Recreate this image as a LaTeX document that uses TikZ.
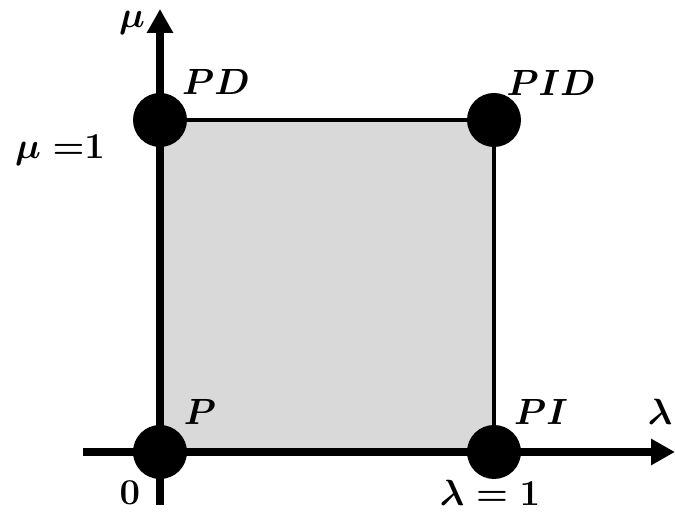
\documentclass[tikz,border=0pt]{standalone}
\usepackage{amsmath, amssymb, bm}
\usepackage{tikz}
\usetikzlibrary{arrows.meta, positioning}
\usepackage{xcolor}
\definecolor{RegionGray}{RGB}{217,217,217}
\tikzset{
	gaindot/.style={circle,fill=black,inner sep=0pt,minimum size=1.08cm},
	axisline/.style={line width=4pt,-{Triangle[length=0.48cm,width=0.5cm]}},
	edgeline/.style={line width=2pt},
	glabel/.style={font=\fontsize{22}{26}\selectfont\boldmath,inner sep=0pt}
}

\begin{document}
\begin{tikzpicture}
\useasboundingbox (-3.2,-1.3) rectangle (10.3,9.04);
% corners of the gain region
\coordinate (p) at (0,0);
\coordinate (pd) at (0,6.64);
\coordinate (pid) at (6.68,6.64);
\coordinate (pi) at (6.68,0);
\coordinate (ybot) at (0,-1.06);
\coordinate (ytop) at (0,8.86);
\coordinate (xleft) at (-1.54,0);
\coordinate (xright) at (10.3,0);
\fill[RegionGray] (p) rectangle (pid);
\draw[axisline] (ybot)--(ytop);
\draw[axisline] (xleft)--(xright);
\draw[edgeline] (pd)--(pid)--(pi);
\node[gaindot] (pdot) at (p) {};
\node[gaindot] (pddot) at (pd) {};
\node[gaindot] (piddot) at (pid) {};
\node[gaindot] (pidot) at (pi) {};
\node[glabel] (mulab) at (-0.56,8.58) {$\mu$};
\node[glabel] (pdlab) at (1.12,7.40) {$PD$};
\node[glabel] (muone) at (-2.0,6.04) {$\mu\ {=}1$};
\node[glabel] (pidlab) at (7.82,7.38) {$PID$};
\node[glabel] (plab) at (0.8,0.8) {$P$};
\node[glabel] (zero) at (-0.6,-0.82) {$0$};
\node[glabel] (pilab) at (7.62,0.8) {$PI$};
\node[glabel] (lamlab) at (10.0,0.8) {$\lambda$};
\node[glabel] (lamone) at (6.6,-0.82) {$\lambda = 1$};
\end{tikzpicture}
\end{document}
